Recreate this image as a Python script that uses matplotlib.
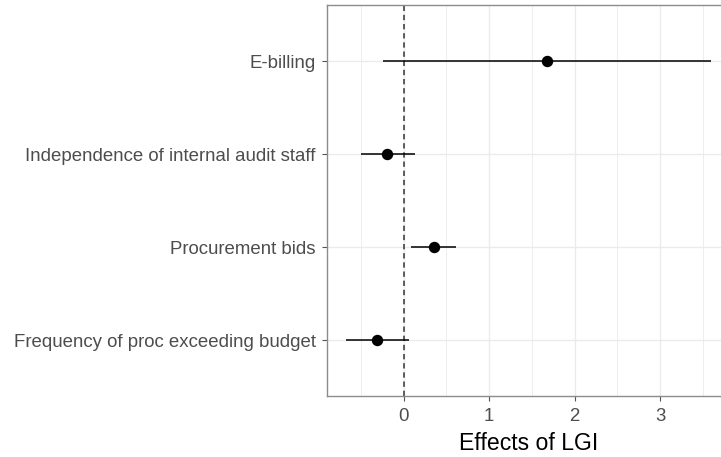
import matplotlib.pyplot as plt
from matplotlib.ticker import MultipleLocator

plt.rcParams['font.family'] = ['Liberation Sans', 'DejaVu Sans']

# Estimates and confidence bounds, bottom to top
outcomes = ['Frequency of proc exceeding budget', 'Procurement bids',
            'Independence of internal audit staff', 'E-billing']
estimate = [-0.31, 0.35, -0.19, 1.68]
ci_low = [-0.68, 0.08, -0.50, -0.24]
ci_high = [0.06, 0.61, 0.13, 3.60]

fig = plt.figure(figsize=(7.21, 4.57), dpi=100)
ax = fig.add_axes([0.454, 0.1335, 0.558, 0.855])

ypos = list(range(len(outcomes)))
ax.hlines(ypos, ci_low, ci_high, color='black', lw=1.1, zorder=3)
ax.plot(estimate, ypos, 'o', color='black', ms=7.2, zorder=4)
ax.axvline(0, color='#333333', lw=1.1, ls=(0, (3.5, 2.5)), zorder=2)

ax.set_xlim(-0.894, 3.814)
ax.set_ylim(-0.6, len(outcomes) - 0.4)
ax.set_yticks(ypos)
ax.set_yticklabels(outcomes)
ax.xaxis.set_major_locator(MultipleLocator(1))
ax.xaxis.set_minor_locator(MultipleLocator(0.5))

ax.grid(which='major', color='#ebebeb', lw=1.0, zorder=0)
ax.grid(which='minor', axis='x', color='#ebebeb', lw=0.6, zorder=0)
ax.set_axisbelow(True)

for s in ax.spines.values():
    s.set_color('#8c8c8c')
    s.set_linewidth(1.0)

ax.tick_params(which='major', length=3.5, width=0.8, color='#555555',
               labelsize=13.4, labelcolor='#4d4d4d')
ax.tick_params(axis='x', pad=5)
ax.tick_params(axis='y', pad=5)
ax.tick_params(which='minor', length=0)
ax.set_xlabel('Effects of LGI', fontsize=16.6, color='black', labelpad=5)

fig.savefig('out.png', dpi=100)
